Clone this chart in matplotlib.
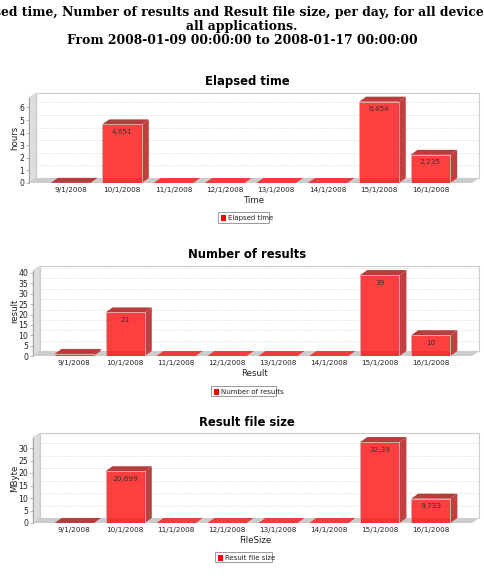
import matplotlib
matplotlib.use("Agg")
import matplotlib.pyplot as plt
from matplotlib.patches import Polygon, Rectangle

days = ["9/1/2008", "10/1/2008", "11/1/2008", "12/1/2008",
        "13/1/2008", "14/1/2008", "15/1/2008", "16/1/2008"]

elapsed_time = [0.01, 4.651, 0, 0, 0, 0, 6.454, 2.235]
elapsed_labels = ["", "4,651", "", "", "", "", "6,454", "2,235"]
elapsed_ticks = [0, 1, 2, 3, 4, 5, 6]

num_results = [1, 21, 0, 0, 0, 0, 39, 10]
num_labels = ["", "21", "", "", "", "", "39", "10"]
num_ticks = [0, 5, 10, 15, 20, 25, 30, 35, 40]

file_size = [0.01, 20.699, 0, 0, 0, 0, 32.39, 9.733]
size_labels = ["", "20,699", "", "", "", "", "32,39", "9,733"]
size_ticks = [0, 5, 10, 15, 20, 25, 30]

W, H = 484, 576
DEPTH_X, DEPTH_Y = 7, 5
XLIM = (-0.81, 7.81)
BAR_W = 0.77

fig = plt.figure(figsize=(W / 100, H / 100), dpi=100, facecolor="white")

fig.text(0.5, 1 - 6 / H, "Elapsed time, Number of results and Result file size, per day, for all devices and\n"
         "all applications.\nFrom 2008-01-09 00:00:00 to 2008-01-17 00:00:00",
         ha="center", va="top", family="DejaVu Serif", weight="bold", fontsize=8.9, linespacing=1.12)


def draw_chart(values, labels, ticks, title, xlabel, ylabel, legend, left, floor, px_per_unit, title_y, legend_box):
    # all the layout numbers are in image pixels, y going down
    right = 472
    height = 85
    ax = fig.add_axes([left / W, 1 - floor / H, (right - left) / W, height / H])
    ax.set_xlim(*XLIM)
    ax.set_ylim(0, height / px_per_unit)
    ax.patch.set_visible(False)
    dx = DEPTH_X * (XLIM[1] - XLIM[0]) / (right - left)
    dy = DEPTH_Y / px_per_unit
    x0, x1 = XLIM
    y1 = height / px_per_unit

    # walls and floor
    ax.add_patch(Rectangle((x0 + dx, dy), x1 - x0, y1 - 0, fc="white", ec="#cccccc", lw=0.8, clip_on=False, zorder=1))
    ax.add_patch(Polygon([(x0, 0), (x0 + dx, dy), (x0 + dx, y1 + dy), (x0, y1)],
                         fc="#dddddd", ec="#cccccc", lw=0.5, clip_on=False, zorder=1))
    for t in ticks[1:]:
        ax.plot([x0 + dx, x1 + dx], [t + dy, t + dy], color="#dcdcdc", lw=0.6, ls=(0, (2, 2)), clip_on=False, zorder=1.5)
    ax.add_patch(Polygon([(x0, 0), (x0 + dx, dy), (x1 + dx, dy), (x1, 0)],
                         fc="#cccccc", ec="none", clip_on=False, zorder=2))

    # bars
    for i, v in enumerate(values):
        a, b = i - BAR_W / 2, i + BAR_W / 2
        z = 3 + i * 0.1
        top_c = "#b83c3c" if v > 0 else "#f03c3c"
        if v > 0:
            ax.add_patch(Polygon([(b, 0), (b + dx, dy), (b + dx, v + dy), (b, v)],
                                 fc="#c04040", ec="none", clip_on=False, zorder=z))
        ax.add_patch(Polygon([(a, v), (a + dx, v + dy), (b + dx, v + dy), (b, v)],
                             fc=top_c, ec="none", clip_on=False, zorder=z))
        if v > 0.5:
            ax.bar(i, v, width=BAR_W, color=(1, 0, 0, 0.75), edgecolor="#e0a8a8", linewidth=0.7, zorder=z + 0.01)
        if labels[i]:
            ax.annotate(labels[i], (i, v), xytext=(0, -7.5 * 0.72), textcoords="offset points", ha="center", va="center",
                        fontsize=5.3, color="#333333", zorder=5)

    for s in ["top", "right"]:
        ax.spines[s].set_visible(False)
    ax.spines["left"].set_color("#999999")
    ax.spines["bottom"].set_visible(False)
    ax.spines["left"].set_linewidth(0.6)
    ax.set_xticks(range(len(days)))
    ax.set_xticklabels(days, fontsize=5.2, color="#222222")
    ax.set_yticks(ticks)
    ax.tick_params(axis="x", length=0, pad=3)
    ax.tick_params(axis="y", length=2, width=0.5, color="#999999", labelsize=5.6, pad=1.5, labelcolor="#222222")

    fig.text(247 / W, 1 - title_y / H, title, ha="center", va="center", weight="bold", fontsize=8.4)
    fig.text(255 / W, 1 - (floor + 17.5) / H, xlabel, ha="center", va="center", fontsize=6.2, color="#222222")
    fig.text(15 / W, 1 - (floor - 45) / H, ylabel, ha="center", va="center", rotation=90, fontsize=6.2, color="#222222")

    # legend
    lx0, lx1, ly0, ly1 = legend_box
    fig.add_artist(Rectangle((lx0 / W, 1 - ly1 / H), (lx1 - lx0) / W, (ly1 - ly0) / H, fc="white", ec="#999999", lw=0.7,
                             transform=fig.transFigure))
    fig.add_artist(Rectangle(((lx0 + 3) / W, 1 - (ly0 + 8.5) / H), 5 / W, 5.5 / H, fc="red", ec="none",
                             transform=fig.transFigure))
    fig.text((lx0 + 10) / W, 1 - (ly0 + 5.8) / H, legend, ha="left", va="center", fontsize=5, color="#222222")


draw_chart(elapsed_time, elapsed_labels, elapsed_ticks, "Elapsed time", "Time", "hours", "Elapsed time",
           29, 183, 12.6, 82, (218, 269, 212, 223))
draw_chart(num_results, num_labels, num_ticks, "Number of results", "Result", "result", "Number of results",
           33, 356, 2.075, 255, (211, 276, 386, 396))
draw_chart(file_size, size_labels, size_ticks, "Result file size", "FileSize", "MByte", "Result file size",
           33, 523, 2.5, 422, (215, 272, 552, 562))

fig.savefig("out.png", dpi=100)
